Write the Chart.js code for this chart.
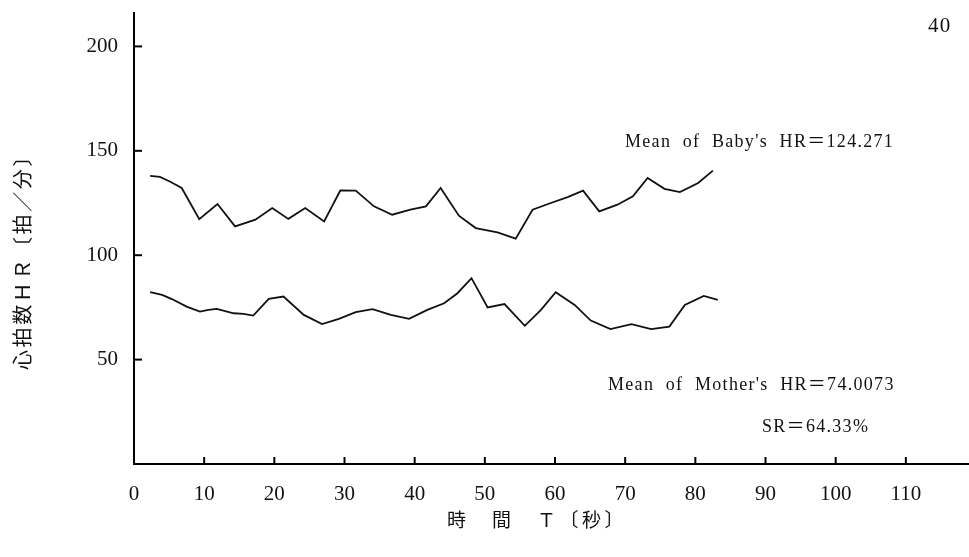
<!DOCTYPE html>
<html>
<head>
<meta charset="utf-8">
<script src="https://cdn.jsdelivr.net/npm/chart.js@4/dist/chart.umd.min.js"></script>
<style>
  html, body { margin: 0; padding: 0; background: #fff; }
  #wrap { width: 969px; height: 557px; }
</style>
</head>
<body>
<div id="wrap"><canvas id="hr"></canvas></div>
<script>
// 時間 [秒] と 心拍数
const babyT = [2.3, 3.7, 5.1, 6.8, 9.3, 11.9, 14.4, 17.3, 19.7, 22.0, 24.4, 27.1, 29.4, 31.6, 34.2, 36.8, 39.4, 41.6,
  43.7, 46.3, 48.7, 51.8, 54.4, 56.8, 59.4, 61.8, 64.0, 66.3, 68.9, 71.1, 73.2, 75.6, 77.8, 80.4, 82.5];
const babyHR = [138, 137.5, 135.3, 132.2, 117.3, 124.5, 113.8, 117, 122.6, 117.4, 122.6, 116.2, 131, 130.9, 123.4, 119.4, 121.8, 123.4,
  132.2, 118.9, 113, 110.9, 107.9, 121.8, 125, 127.8, 130.9, 121, 124.2, 128.2, 137, 131.8, 130.2, 134.6, 140.5];

const motherT = [2.3, 4.0, 5.4, 7.5, 9.4, 10.6, 11.8, 14.2, 15.6, 17.0, 19.2, 21.3, 24.2, 26.8, 29.2, 31.6, 34.0, 36.6, 39.2,
  41.8, 44.2, 46.1, 48.1, 50.4, 52.8, 55.7, 58.0, 60.1, 62.8, 65.1, 67.9, 70.9, 73.7, 76.3, 78.5, 81.2, 83.2];
const motherHR = [82.3, 81, 79, 75.4, 73, 73.8, 74.3, 72.2, 71.9, 71.1, 79.1, 80.2, 71.4, 67, 69.5, 72.7, 74.2, 71.4, 69.5,
  73.8, 77, 81.8, 89, 75, 76.6, 66.2, 73.8, 82.3, 76.2, 68.7, 64.6, 67, 64.6, 65.8, 76.2, 80.5, 78.6];

const xTicks = [0, 10, 20, 30, 40, 50, 60, 70, 80, 90, 100, 110];
const yTicks = [50, 100, 150, 200];

const notes = [
  ['40', 928, 32, 21],
  ['Mean  of  Baby\'s  HR＝124.271', 625, 147, 18],
  ['Mean  of  Mother\'s  HR＝74.0073', 608, 390, 18],
  ['SR＝64.33%', 762, 432, 18],
];

const toPts = (xs, ys) => xs.map((x, i) => ({ x, y: ys[i] }));

const serif = '"Liberation Serif", "Noto Sans CJK JP", serif';
const cjk = '"Noto Sans CJK JP", "Liberation Serif", serif';

// 内向きの目盛りと注記・軸ラベル
const extras = {
  id: 'extras',
  afterDraw(chart) {
    const ctx = chart.ctx;
    const { left, bottom } = chart.chartArea;
    const xs = chart.scales.x, ys = chart.scales.y;
    ctx.save();
    ctx.strokeStyle = '#000';
    ctx.lineWidth = 2;
    xTicks.slice(1).forEach(v => {
      const px = xs.getPixelForValue(v);
      ctx.beginPath(); ctx.moveTo(px, bottom); ctx.lineTo(px, bottom - 7); ctx.stroke();
    });
    yTicks.forEach(v => {
      const py = ys.getPixelForValue(v);
      ctx.beginPath(); ctx.moveTo(left, py); ctx.lineTo(left + 8, py); ctx.stroke();
    });

    ctx.fillStyle = '#111';
    ctx.textBaseline = 'alphabetic';
    ctx.textAlign = 'left';
    notes.forEach(([t, x, y, s]) => {
      ctx.font = s + 'px ' + serif;
      ctx.letterSpacing = '1.3px';
      ctx.fillText(t, x, y);
    });

    // x 軸タイトル
    ctx.font = '19px ' + cjk;
    ctx.letterSpacing = '3.5px';
    ctx.textBaseline = 'middle';
    ctx.fillText('時　間　Ｔ〔秒〕', 447, 520);

    // y 軸タイトル
    ctx.translate(22, 257);
    ctx.rotate(-Math.PI / 2);
    ctx.font = '20px ' + cjk;
    ctx.letterSpacing = '2.6px';
    ctx.textAlign = 'center';
    ctx.fillText('心拍数ＨＲ〔拍／分〕', 0, 0);
    ctx.restore();
  }
};

new Chart(document.getElementById('hr'), {
  type: 'scatter',
  data: {
    datasets: [
      { label: 'Baby', data: toPts(babyT, babyHR), showLine: true, borderColor: '#111', borderWidth: 1.8, pointRadius: 0, tension: 0 },
      { label: 'Mother', data: toPts(motherT, motherHR), showLine: true, borderColor: '#111', borderWidth: 1.8, pointRadius: 0, tension: 0 },
    ]
  },
  options: {
    responsive: true,
    maintainAspectRatio: false,
    animation: false,
    layout: { padding: { top: 13, right: 0, left: 0, bottom: 0 } },
    plugins: { legend: { display: false }, tooltip: { enabled: false } },
    scales: {
      x: {
        type: 'linear', min: 0, max: 119,
        grid: { display: false, drawTicks: false },
        border: { display: true, color: '#000', width: 2 },
        afterFit: (s) => { s.height = 93; s.paddingLeft = 0; s.paddingRight = 0; },
        afterBuildTicks: (s) => { s.ticks = xTicks.map(v => ({ value: v })); },
        ticks: { color: '#111', padding: 18, font: { family: serif, size: 21 }, maxRotation: 0, autoSkip: false }
      },
      y: {
        type: 'linear', min: 0, max: 216,
        grid: { display: false, drawTicks: false },
        border: { display: true, color: '#000', width: 2 },
        afterFit: (s) => { s.width = 134; s.paddingTop = 0; s.paddingBottom = 0; },
        afterBuildTicks: (s) => { s.ticks = yTicks.map(v => ({ value: v })); },
        ticks: { color: '#111', padding: 16, font: { family: serif, size: 21 } }
      }
    }
  },
  plugins: [extras]
});
</script>
</body>
</html>
